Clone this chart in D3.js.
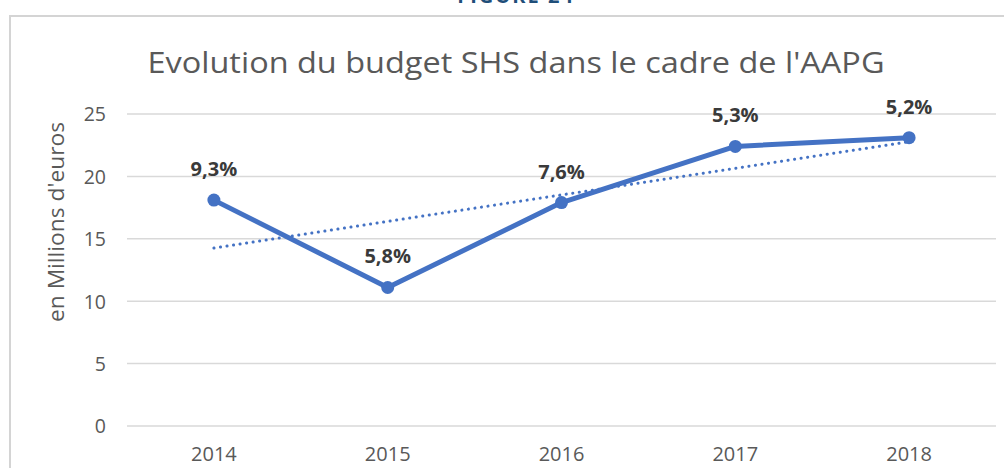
<!DOCTYPE html>
<html><head><meta charset="utf-8">
<script src="https://cdn.jsdelivr.net/npm/d3@7"></script>
<style>
html,body{margin:0;padding:0;background:#fff;}
svg{display:block;font-family:"Open Sans","Noto Sans",sans-serif;}
</style></head>
<body>
<svg id="chart" width="1004" height="468"></svg>
<script>
const years = ["2014","2015","2016","2017","2018"];
const budget = [18.1, 11.1, 17.9, 22.4, 23.1];
const growthLabels = ["9,3%","5,8%","7,6%","5,3%","5,2%"];
const yTicks = [0,5,10,15,20,25];
const title = "Evolution du budget SHS dans le cadre de l'AAPG";
const yTitle = "en Millions d'euros";
const figureLabel = "FIGURE 24";

const svg = d3.select("#chart");
const W = 1004, H = 468;
const m = {left:127, right:8, top:114, bottom:42};

// figure header (cut off at top, as in the source)
svg.append("text").attr("x",516).attr("y",3).attr("text-anchor","middle")
  .attr("font-size",20).attr("font-weight",700).attr("fill","#1f4e79")
  .attr("letter-spacing",2).text(figureLabel);

// chart box border
svg.append("path").attr("d",`M10,${H} L10,16 L${W},16`)
  .attr("fill","none").attr("stroke","#d4d4d4").attr("stroke-width",2);

const x = d3.scaleBand().domain(years).range([m.left, W - m.right]);
const y = d3.scaleLinear().domain([0,25]).range([426,114]);

// gridlines
svg.append("g").selectAll("line").data(yTicks).join("line")
  .attr("x1",m.left).attr("x2",W - m.right)
  .attr("y1",d=>y(d)).attr("y2",d=>y(d))
  .attr("stroke","#d9d9d9").attr("stroke-width",1.5);

// y axis
const yAxis = svg.append("g").attr("transform",`translate(${m.left-21},0)`)
  .call(d3.axisLeft(y).tickValues(yTicks).tickSize(0).tickPadding(0));
yAxis.select(".domain").remove();
yAxis.selectAll("text").attr("font-size",19.5).attr("fill","#595959")
  .attr("font-family","'Open Sans','Noto Sans',sans-serif").attr("dy","0.35em");

// x axis
const xAxis = svg.append("g").attr("transform",`translate(0,${y(0)})`)
  .call(d3.axisBottom(x).tickSize(0).tickPadding(0));
xAxis.select(".domain").remove();
xAxis.selectAll("text").attr("font-size",20).attr("fill","#595959")
  .attr("font-family","'Open Sans','Noto Sans',sans-serif").attr("y",28).attr("dy","0.35em");

// title
svg.append("text").attr("x",516).attr("y",73).attr("text-anchor","middle")
  .attr("font-size",29).attr("fill","#595959").attr("textLength",737)
  .attr("lengthAdjust","spacingAndGlyphs").text(title);

// y title
svg.append("text").attr("transform",`translate(64,222) rotate(-90)`)
  .attr("text-anchor","middle").attr("font-size",21).attr("fill","#595959")
  .attr("textLength",200).attr("lengthAdjust","spacingAndGlyphs")
  .text(yTitle);

const cx = d => x(d) + x.bandwidth()/2;

// linear trend (least squares on the series)
const n = budget.length;
const xs = d3.range(n);
const mx = d3.mean(xs), my = d3.mean(budget);
const slope = d3.sum(xs, i => (i-mx)*(budget[i]-my)) / d3.sum(xs, i => (i-mx)*(i-mx));
const icpt = my - slope*mx;
svg.append("line")
  .attr("x1",cx(years[0])).attr("y1",y(icpt))
  .attr("x2",cx(years[n-1])).attr("y2",y(icpt + slope*(n-1)))
  .attr("stroke","#4472c4").attr("stroke-width",3)
  .attr("stroke-dasharray","0.1,6.5").attr("stroke-linecap","round");

// series line
const data = years.map((yr,i)=>({yr, v:budget[i], lab:growthLabels[i]}));
svg.append("path").datum(data)
  .attr("d", d3.line().x(d=>cx(d.yr)).y(d=>y(d.v)))
  .attr("fill","none").attr("stroke","#4472c4").attr("stroke-width",5)
  .attr("stroke-linejoin","round");

svg.append("g").selectAll("circle").data(data).join("circle")
  .attr("cx",d=>cx(d.yr)).attr("cy",d=>y(d.v)).attr("r",6.5)
  .attr("fill","#4472c4");

svg.append("g").selectAll("text").data(data).join("text")
  .attr("x",d=>cx(d.yr)).attr("y",d=>y(d.v)-24)
  .attr("text-anchor","middle").attr("font-size",20).attr("font-weight",700)
  .attr("fill","#3a3a3a").text(d=>d.lab);
</script>
</body></html>
